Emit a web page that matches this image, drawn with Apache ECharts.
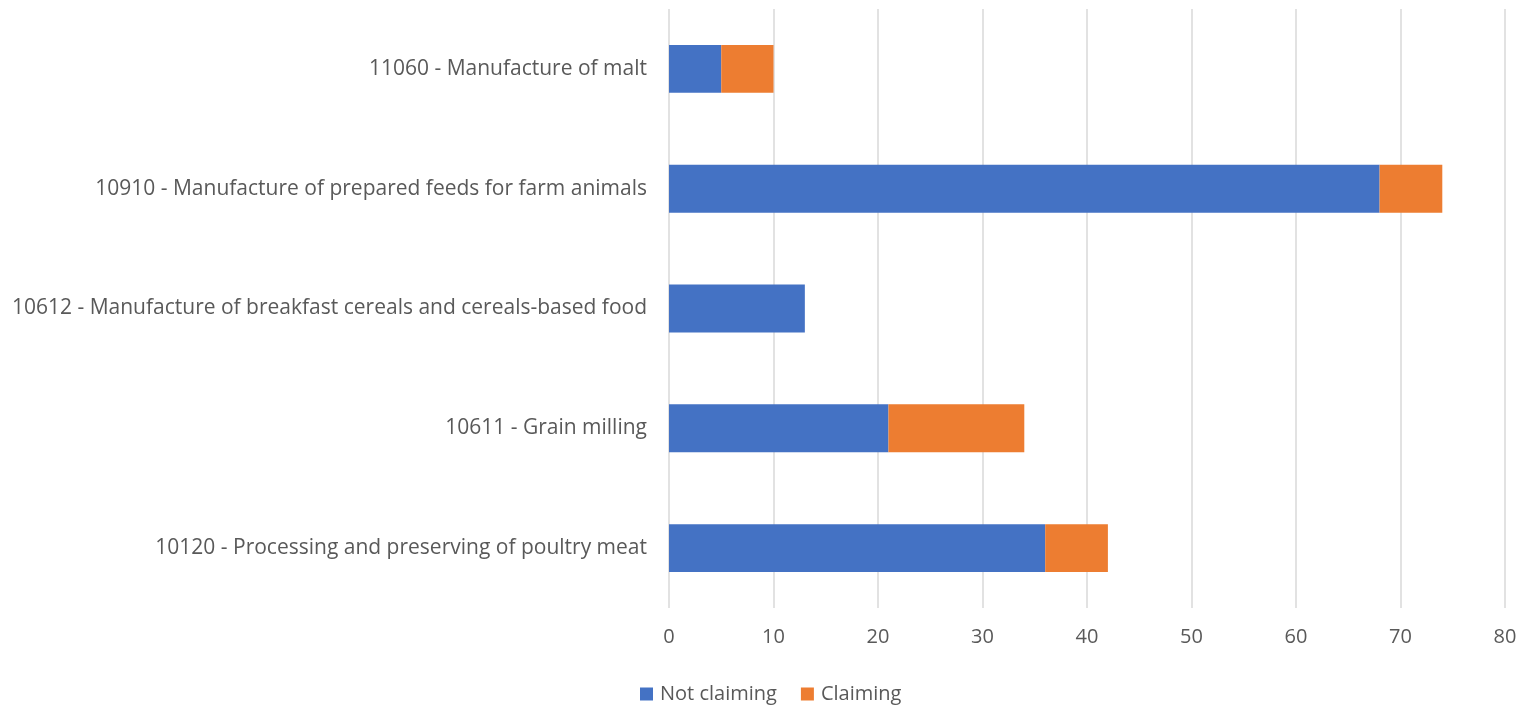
<!DOCTYPE html>
<html><head><meta charset="utf-8">
<script src="https://cdn.jsdelivr.net/npm/echarts@6/dist/echarts.min.js"></script>
<style>html,body{margin:0;padding:0;background:#fff}#c{width:1522px;height:705px}</style>
</head><body><div id="c"></div>
<script>
const categories = [
  "10120 - Processing and preserving of poultry meat",
  "10611 - Grain milling",
  "10612 - Manufacture of breakfast cereals and cereals-based food",
  "10910 - Manufacture of prepared feeds for farm animals",
  "11060 - Manufacture of malt"
];
const notClaiming = [36, 21, 13, 68, 5];
const claiming = [6, 13, 0, 6, 5];
const xTicks = { min: 0, max: 80, interval: 10 };

const chart = echarts.init(document.getElementById('c'), null, { renderer: 'canvas' });
const font = "'Open Sans', 'Liberation Sans', sans-serif";
chart.setOption({
  animation: false,
  textStyle: { fontFamily: font },
  grid: { left: 669, right: 17, top: 9, bottom: 97, containLabel: false },
  legend: {
    top: 679, left: 635,
    itemWidth: 13, itemHeight: 13, itemGap: 24,
    icon: 'rect',
    textStyle: { fontSize: 20, color: '#595959', fontFamily: font, padding: [0, 0, 0, 2] },
    data: ['Not claiming', 'Claiming']
  },
  xAxis: {
    type: 'value', min: xTicks.min, max: xTicks.max, interval: xTicks.interval,
    axisLine: { show: false }, axisTick: { show: false },
    axisLabel: { fontSize: 20, color: '#595959', margin: 19, fontFamily: font },
    splitLine: { show: true, lineStyle: { color: '#d9d9d9', width: 1.5 } }
  },
  yAxis: {
    type: 'category', data: categories,
    axisLine: { show: false }, axisTick: { show: false },
    axisLabel: { fontSize: 21, color: '#595959', margin: 22, fontFamily: font }
  },
  series: [
    { name: 'Not claiming', type: 'bar', stack: 's', data: notClaiming,
      itemStyle: { color: '#4472c4' }, barCategoryGap: '60%' },
    { name: 'Claiming', type: 'bar', stack: 's', data: claiming,
      itemStyle: { color: '#ed7d31' }, barCategoryGap: '60%' }
  ]
});
</script></body></html>
